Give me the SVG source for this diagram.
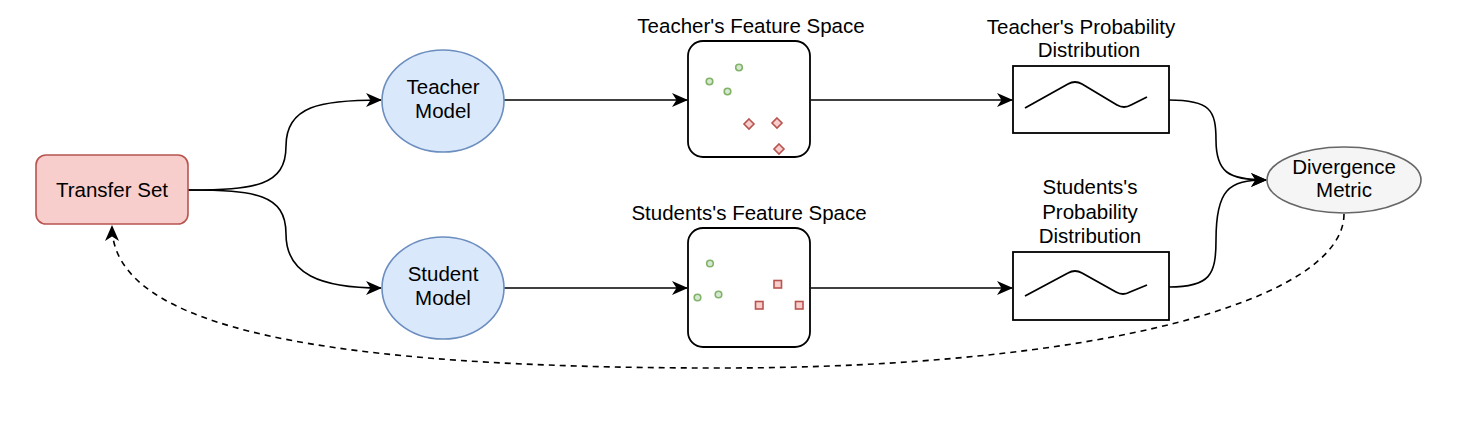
<svg xmlns="http://www.w3.org/2000/svg" width="1463" height="431" viewBox="0 0 1463 431">
<style>
text{font-family:"Liberation Sans",Arial,sans-serif;font-size:20.5px;fill:#000;text-anchor:middle}
.edge{fill:none;stroke:#000;stroke-width:1.6}
.dash{stroke-dasharray:6 5}
.blue{fill:#dae8fc;stroke:#6c8ebf;stroke-width:1.6}
.red{fill:#f8cecc;stroke:#b85450;stroke-width:1.6}
.grn{fill:#d5e8d4;stroke:#82b366;stroke-width:1.6}
.box{fill:#fff;stroke:#000;stroke-width:1.8}
.wave{fill:none;stroke:#000;stroke-width:1.8}
</style>
<defs>
<marker id="arr" markerWidth="16" markerHeight="14" viewBox="0 0 16 14" refX="15" refY="7" orient="auto" markerUnits="userSpaceOnUse">
<path d="M0,0 L16,7 L0,14 L4.5,7 Z" fill="#000"/>
</marker>
</defs>
<rect width="1463" height="431" fill="#fff"/>
<g id="connectors">
<path class="edge" d="M188,190 C255,190 286,186 286,146 C286,106 320,100 381,100" marker-end="url(#arr)"/>
<path class="edge" d="M188,190 C255,190 286,194 286,234 C286,274 320,288 381,288" marker-end="url(#arr)"/>
<path class="edge" d="M504,100 L687,100" marker-end="url(#arr)"/>
<path class="edge" d="M504,288 L687,288" marker-end="url(#arr)"/>
<path class="edge" d="M811,100 L1012,100" marker-end="url(#arr)"/>
<path class="edge" d="M811,288 L1012,288" marker-end="url(#arr)"/>
<path class="edge" d="M1169,100 C1210,100 1216,110 1216,140 C1216,172 1228,180 1266,180" marker-end="url(#arr)"/>
<path class="edge" d="M1169,287 C1210,287 1216,275 1216,240 C1216,190 1228,180 1266,180" marker-end="url(#arr)"/>
<path class="edge dash" d="M1344,214 C1344,300 1100,368 720,368 C330,368 112,330 112,226" marker-end="url(#arr)"/>
</g>
<g id="transfer-set">
<rect class="red" x="36" y="155" width="152" height="69" rx="10"/>
<text x="112" y="197">Transfer Set</text>
</g>
<g id="teacher-model">
<ellipse class="blue" cx="443" cy="101" rx="61" ry="51"/>
<text x="443" y="94">Teacher</text>
<text x="443" y="118">Model</text>
</g>
<g id="student-model">
<ellipse class="blue" cx="443" cy="288" rx="61" ry="51"/>
<text x="443" y="281">Student</text>
<text x="443" y="305">Model</text>
</g>
<g id="teacher-feature-space">
<text x="751" y="33">Teacher's Feature Space</text>
<rect class="box" x="688" y="41" width="122" height="116" rx="15"/>
<circle class="grn" cx="739" cy="67.5" r="3.3"/>
<circle class="grn" cx="709.5" cy="81.5" r="3.3"/>
<circle class="grn" cx="727.5" cy="91.5" r="3.3"/>
<path class="red" d="M749,119 L754,124 L749,129 L744,124 Z"/>
<path class="red" d="M777,118 L782,123 L777,128 L772,123 Z"/>
<path class="red" d="M779,144 L784,149 L779,154 L774,149 Z"/>
</g>
<g id="student-feature-space">
<text x="749" y="220">Students's Feature Space</text>
<rect class="box" x="688" y="228" width="122" height="119" rx="15"/>
<circle class="grn" cx="710" cy="263.5" r="3.3"/>
<circle class="grn" cx="697.5" cy="297.5" r="3.3"/>
<circle class="grn" cx="718.5" cy="294.5" r="3.3"/>
<rect class="red" x="774" y="280.5" width="7.5" height="7.5"/>
<rect class="red" x="755.5" y="301.5" width="7.5" height="7.5"/>
<rect class="red" x="795.5" y="301.5" width="7.5" height="7.5"/>
</g>
<g id="teacher-probability">
<text x="1081" y="34">Teacher's Probability</text>
<text x="1089" y="57">Distribution</text>
<rect class="box" x="1013" y="66" width="156" height="67"/>
<path class="wave" d="M1025,108 L1068,84 Q1075,80 1082,84 L1117,105 Q1124,109 1131,105 L1147,97"/>
</g>
<g id="student-probability">
<text x="1090" y="194">Students's</text>
<text x="1090" y="219">Probability</text>
<text x="1090" y="243">Distribution</text>
<rect class="box" x="1013" y="252" width="156" height="68"/>
<path class="wave" d="M1025,296 L1068,273 Q1075,269 1082,273 L1116,292 Q1123,296 1130,292 L1147,285"/>
</g>
<g id="divergence-metric">
<ellipse cx="1344" cy="180" rx="77" ry="33" fill="#f5f5f5" stroke="#666" stroke-width="1.6"/>
<text x="1344" y="174">Divergence</text>
<text x="1344" y="197">Metric</text>
</g>
</svg>
